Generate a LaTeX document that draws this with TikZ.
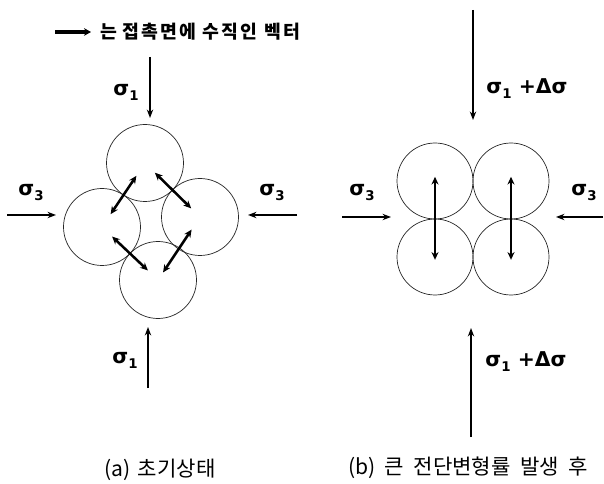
\documentclass[tikz,border=0pt]{standalone}
\usepackage{fontspec}
\setmainfont{DejaVu Sans}
\newfontfamily\kr{Noto Sans CJK KR}
\newfontfamily\krsp[LetterSpace=12]{Noto Sans CJK KR}
\usetikzlibrary{arrows.meta,calc}

% sigma with a small bold index
\newcommand{\sigi}[1]{σ\raisebox{-0.45ex}{\fontsize{9.5}{9.5}\selectfont\bfseries #1}}

\tikzset{
  grain/.style={draw=black!85, line width=0.5pt, circle, inner sep=0pt, minimum size=#1*0.025cm},
  grain/.default=77,
  stress/.style={line width=1.1pt, -{Stealth[length=6pt,width=4.5pt]}},
  contact/.style={line width=1.8pt, {Stealth[length=5.5pt,width=5pt]}-{Stealth[length=5.5pt,width=5pt]}},
  sig/.style={font=\bfseries\fontsize{14.5}{16}\selectfont, inner sep=0pt},
  caption/.style={font=\kr\fontsize{15}{17}\selectfont, inner sep=0pt},
}

\begin{document}
\begin{tikzpicture}[x=0.025cm, y=-0.025cm]
\useasboundingbox (0,0) rectangle (604,484);

% Legenda
\coordinate (lgs) at (55,32);
\coordinate (lge) at (91,32);
\draw[line width=2.2pt, -{Stealth[length=5pt,width=5.5pt]}] (lgs) -- (lge);
\node[font=\krsp\bfseries\fontsize{13}{15}\selectfont, anchor=west, inner sep=0pt] (lgt) at (100,32) {는\hspace{0.3em}접촉면에\hspace{0.35em}수직인\hspace{0.35em}벡터};

% (a) Initial state
\node[grain] (ga1) at (145,163) {};
\node[grain] (ga2) at (102,227) {};
\node[grain] (ga3) at (200,217) {};
\node[grain] (ga4) at (158,280) {};

\draw[contact] ($(ga1)!0.2!(ga2)$) -- ($(ga1)!0.8!(ga2)$);
\draw[contact] ($(ga1)!0.18!(ga3)$) -- ($(ga1)!0.84!(ga3)$);
\draw[contact] ($(ga2)!0.18!(ga4)$) -- ($(ga2)!0.82!(ga4)$);
\draw[contact] ($(ga4)!0.12!(ga3)$) -- ($(ga4)!0.8!(ga3)$);

\coordinate (a1ts) at (150,57);
\coordinate (a1te) at (150,118);
\draw[stress] (a1ts) -- (a1te);
\node[sig] (sa1t) at (126,92) {\sigi{1}};

\coordinate (a1bs) at (148,388);
\coordinate (a1be) at (148,327);
\draw[stress] (a1bs) -- (a1be);
\node[sig] (sa1b) at (125,360) {\sigi{1}};

\coordinate (a3ls) at (7,215);
\coordinate (a3le) at (56,215);
\draw[stress] (a3ls) -- (a3le);
\node[sig] (sa3l) at (31,193) {\sigi{3}};

\coordinate (a3rs) at (297,215);
\coordinate (a3re) at (248,215);
\draw[stress] (a3rs) -- (a3re);
\node[sig] (sa3r) at (272,193) {\sigi{3}};

\node[caption] (capa) at (160,470) {(a)\hspace{0.35em}초기상태};

% (b) After large shear strain
\node[grain=76] (gb1) at (435,181) {};
\node[grain=76] (gb2) at (511,181) {};
\node[grain=76] (gb3) at (435,257) {};
\node[grain=76] (gb4) at (511,257) {};

\draw[contact, shorten <=-3pt, shorten >=-2pt] (gb1.center) -- (gb3.center);
\draw[contact, shorten <=-3pt, shorten >=-2pt] (gb2.center) -- (gb4.center);

\coordinate (b1ts) at (473,10);
\coordinate (b1te) at (473,120);
\draw[stress] (b1ts) -- (b1te);
\node[sig] (sb1t) at (527,89) {\sigi{1} +Δσ};

\coordinate (b1bs) at (471,437);
\coordinate (b1be) at (471,328);
\draw[stress] (b1bs) -- (b1be);
\node[sig] (sb1b) at (526,362) {\sigi{1} +Δσ};

\coordinate (b3ls) at (342,217);
\coordinate (b3le) at (391,217);
\draw[stress] (b3ls) -- (b3le);
\node[sig] (sb3l) at (362,193) {\sigi{3}};

\coordinate (b3rs) at (603,217);
\coordinate (b3re) at (556,217);
\draw[stress] (b3rs) -- (b3re);
\node[sig] (sb3r) at (584,193) {\sigi{3}};

\node[caption] (capb) at (468,468) {(b)\hspace{0.45em}큰\hspace{0.45em}전단변형률\hspace{0.45em}발생\hspace{0.45em}후};
\end{tikzpicture}
\end{document}
